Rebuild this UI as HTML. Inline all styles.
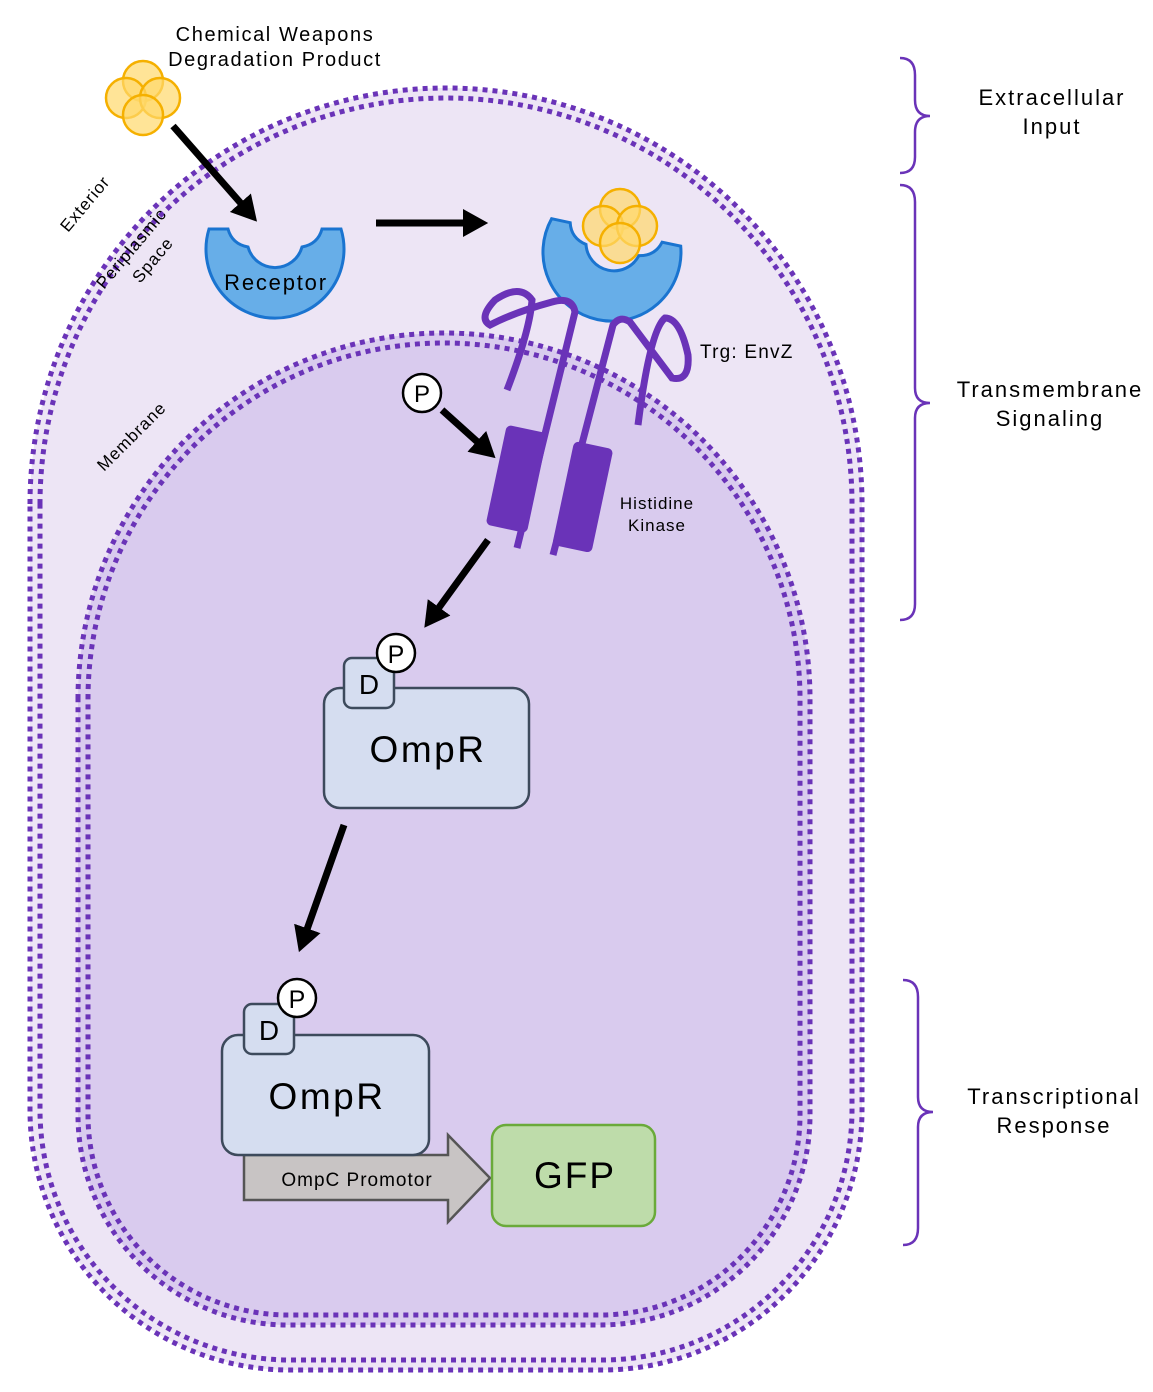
<!DOCTYPE html>
<html><head><meta charset="utf-8"><style>
html,body{margin:0;padding:0;background:#fff}
svg{display:block;font-family:"Liberation Sans",sans-serif}
</style></head><body>
<svg id="s" width="1153" height="1392" viewBox="0 0 1153 1392">
<g id="cell"></g>
</svg>
<script>
const NS='http://www.w3.org/2000/svg';
function stad(l,t,r,b,rb){const R=(r-l)/2;const cy=t+R;
return `M${l},${cy} A${R},${R} 0 0 1 ${r},${cy} L${r},${b-rb} A${rb},${rb} 0 0 1 ${r-rb},${b} L${l+rb},${b} A${rb},${rb} 0 0 1 ${l},${b-rb} Z`;}
const cell=document.getElementById('cell');
function P(d,attrs,name){const e=document.createElementNS(NS,'path');e.setAttribute('d',d);for(const k in attrs)e.setAttribute(k,attrs[k]);


cell.appendChild(e);return e;}
const dash={fill:'none',stroke:'#6a33b8','stroke-width':5,'stroke-dasharray':'5 5'};
P(stad(30,88,862,1370,260),{fill:'#ede5f5'},'periplasm-fill');
P(stad(30,88,862,1370,260),dash,'outer-membrane-outer-line');
P(stad(40,98,852,1360,250),dash,'outer-membrane-inner-line');
P(stad(78,333,810,1325,210),{fill:'#d9cbee'},'cytoplasm-fill');
P(stad(78,333,810,1325,210),dash,'inner-membrane-outer-line');
P(stad(88,343,800,1315,200),dash,'inner-membrane-inner-line');
</script>
<svg width="1153" height="1392" viewBox="0 0 1153 1392" style="position:absolute;left:0;top:0;font-family:'Liberation Sans',sans-serif">
<defs>
<marker id="a2" markerWidth="4" markerHeight="4" refX="1" refY="2" orient="auto" markerUnits="strokeWidth"><path d="M0,0 L3.6,2 L0,4 Z" fill="#000"/></marker>
<g id="lig">
<circle cx="0" cy="-17" r="20" fill="#ffd96b" fill-opacity="0.7" stroke="#f5b000" stroke-width="2.5"/>
<circle cx="-17" cy="0" r="20" fill="#ffd96b" fill-opacity="0.7" stroke="#f5b000" stroke-width="2.5"/>
<circle cx="17" cy="0" r="20" fill="#ffd96b" fill-opacity="0.7" stroke="#f5b000" stroke-width="2.5"/>
<circle cx="0" cy="17" r="20" fill="#ffd96b" fill-opacity="0.7" stroke="#f5b000" stroke-width="2.5"/>
</g>
<path id="rec" d="M-66,-20 L-47,-20 Q-43,-5 -27,-2 A28,28 0 0 0 27,-2 Q43,-5 47,-20 L66,-20 A69,69 0 1 1 -66,-20 Z" fill="#67aee8" stroke="#1a74d0" stroke-width="3"/>
</defs>
<use href="#lig" x="143" y="98"/>
<text x="275" y="41" font-size="20" letter-spacing="1.6" text-anchor="middle">Chemical Weapons</text>
<text x="275" y="66" font-size="20" letter-spacing="1.6" text-anchor="middle">Degradation Product</text>
<g transform="translate(275,249)"><use href="#rec"/></g>
<text x="276" y="290" font-size="22" letter-spacing="1.8" text-anchor="middle">Receptor</text>
<g transform="translate(612,252) rotate(12)"><use href="#rec"/></g>
<use href="#lig" x="620" y="226"/>
<g stroke="#000" stroke-width="7" fill="none">
<line x1="173" y1="126" x2="245" y2="208" marker-end="url(#a2)"/>
<line x1="376" y1="223" x2="470" y2="223" marker-end="url(#a2)"/>
<line x1="442" y1="410" x2="482" y2="446" marker-end="url(#a2)"/>
<line x1="488" y1="540" x2="435" y2="613" marker-end="url(#a2)"/>
<line x1="344" y1="825" x2="305" y2="935" marker-end="url(#a2)"/>
</g>
<g fill="none" stroke="#6a33b8" stroke-width="7" stroke-linecap="butt">
<path d="M517,548 L575,312 Q572,296 552,302 Q515,312 490,325 Q478,318 495,300 Q520,283 532,300 Q530,330 507,390"/>
<path d="M553,555 L613,325 Q620,315 630,322 L672,378 Q690,382 688,355 Q680,318 665,318 Q650,330 638,425"/>
</g>
<g fill="#6a33b8">
<rect x="-21" y="-50" width="42" height="102" rx="5" transform="translate(517,478) rotate(12)"/>
<rect x="-20" y="-52" width="40" height="106" rx="5" transform="translate(583,496) rotate(12)"/>
</g>
<circle cx="422" cy="393" r="19" fill="#fff" stroke="#000" stroke-width="2.5"/>
<text x="422" y="402" font-size="24" text-anchor="middle">P</text>
<text x="700" y="358" font-size="19" letter-spacing="1.2">Trg: EnvZ</text>
<text x="657" y="509" font-size="17" letter-spacing="1" text-anchor="middle">Histidine</text>
<text x="657" y="531" font-size="17" letter-spacing="1" text-anchor="middle">Kinase</text>
<g>
<rect x="324" y="688" width="205" height="120" rx="16" fill="#d5ddf0" stroke="#3d4a5c" stroke-width="2.5"/>
<rect x="344" y="658" width="50" height="50" rx="8" fill="#d5ddf0" stroke="#3d4a5c" stroke-width="2.5"/>
<circle cx="396" cy="653" r="19" fill="#fff" stroke="#000" stroke-width="2.5"/>
<text x="396" y="663" font-size="25" text-anchor="middle">P</text>
<text x="369" y="694" font-size="28" text-anchor="middle">D</text>
<text x="428" y="762" font-size="37" letter-spacing="2.5" text-anchor="middle">OmpR</text>
</g>
<g>
<path d="M244,1155 L448,1155 L448,1135 L490,1178 L448,1222 L448,1200 L244,1200 Z" fill="#c8c4c4" stroke="#555" stroke-width="2.5"/>
<text x="357" y="1186" font-size="19" letter-spacing="1" text-anchor="middle">OmpC Promotor</text>
<rect x="222" y="1035" width="207" height="120" rx="16" fill="#d5ddf0" stroke="#3d4a5c" stroke-width="2.5"/>
<rect x="244" y="1004" width="50" height="50" rx="8" fill="#d5ddf0" stroke="#3d4a5c" stroke-width="2.5"/>
<circle cx="297" cy="998" r="19" fill="#fff" stroke="#000" stroke-width="2.5"/>
<text x="297" y="1008" font-size="25" text-anchor="middle">P</text>
<text x="269" y="1040" font-size="28" text-anchor="middle">D</text>
<text x="327" y="1109" font-size="37" letter-spacing="2.5" text-anchor="middle">OmpR</text>
</g>
<g>
<rect x="492" y="1125" width="163" height="101" rx="14" fill="#bedcaa" stroke="#6aaa3a" stroke-width="2.5"/>
<text x="575" y="1188" font-size="37" letter-spacing="2" text-anchor="middle">GFP</text>
</g>
<text transform="translate(68,233) rotate(-50)" font-size="17" letter-spacing="1">Exterior</text>
<text transform="translate(104,290) rotate(-50)" font-size="17" letter-spacing="1">Periplasmic</text>
<text transform="translate(140,284) rotate(-50)" font-size="17" letter-spacing="1">Space</text>
<text transform="translate(104,472) rotate(-45)" font-size="17" letter-spacing="1">Membrane</text>
<g fill="none" stroke="#6a33b8" stroke-width="2.5">
<path d="M900,58 Q915,58 915,75 L915,100 Q915,116 930,116 Q915,116 915,132 L915,157 Q915,173 900,173"/>
<path d="M900,185 Q915,185 915,202 L915,388 Q915,403 930,403 Q915,403 915,418 L915,604 Q915,620 900,620"/>
<path d="M903,980 Q918,980 918,997 L918,1097 Q918,1112 933,1112 Q918,1112 918,1127 L918,1228 Q918,1245 903,1245"/>
</g>
<g font-size="22" letter-spacing="2" text-anchor="middle">
<text x="1052" y="105">Extracellular</text>
<text x="1052" y="134">Input</text>
<text x="1050" y="397">Transmembrane</text>
<text x="1050" y="426">Signaling</text>
<text x="1054" y="1104">Transcriptional</text>
<text x="1054" y="1133">Response</text>
</g>
</svg>
</body></html>
